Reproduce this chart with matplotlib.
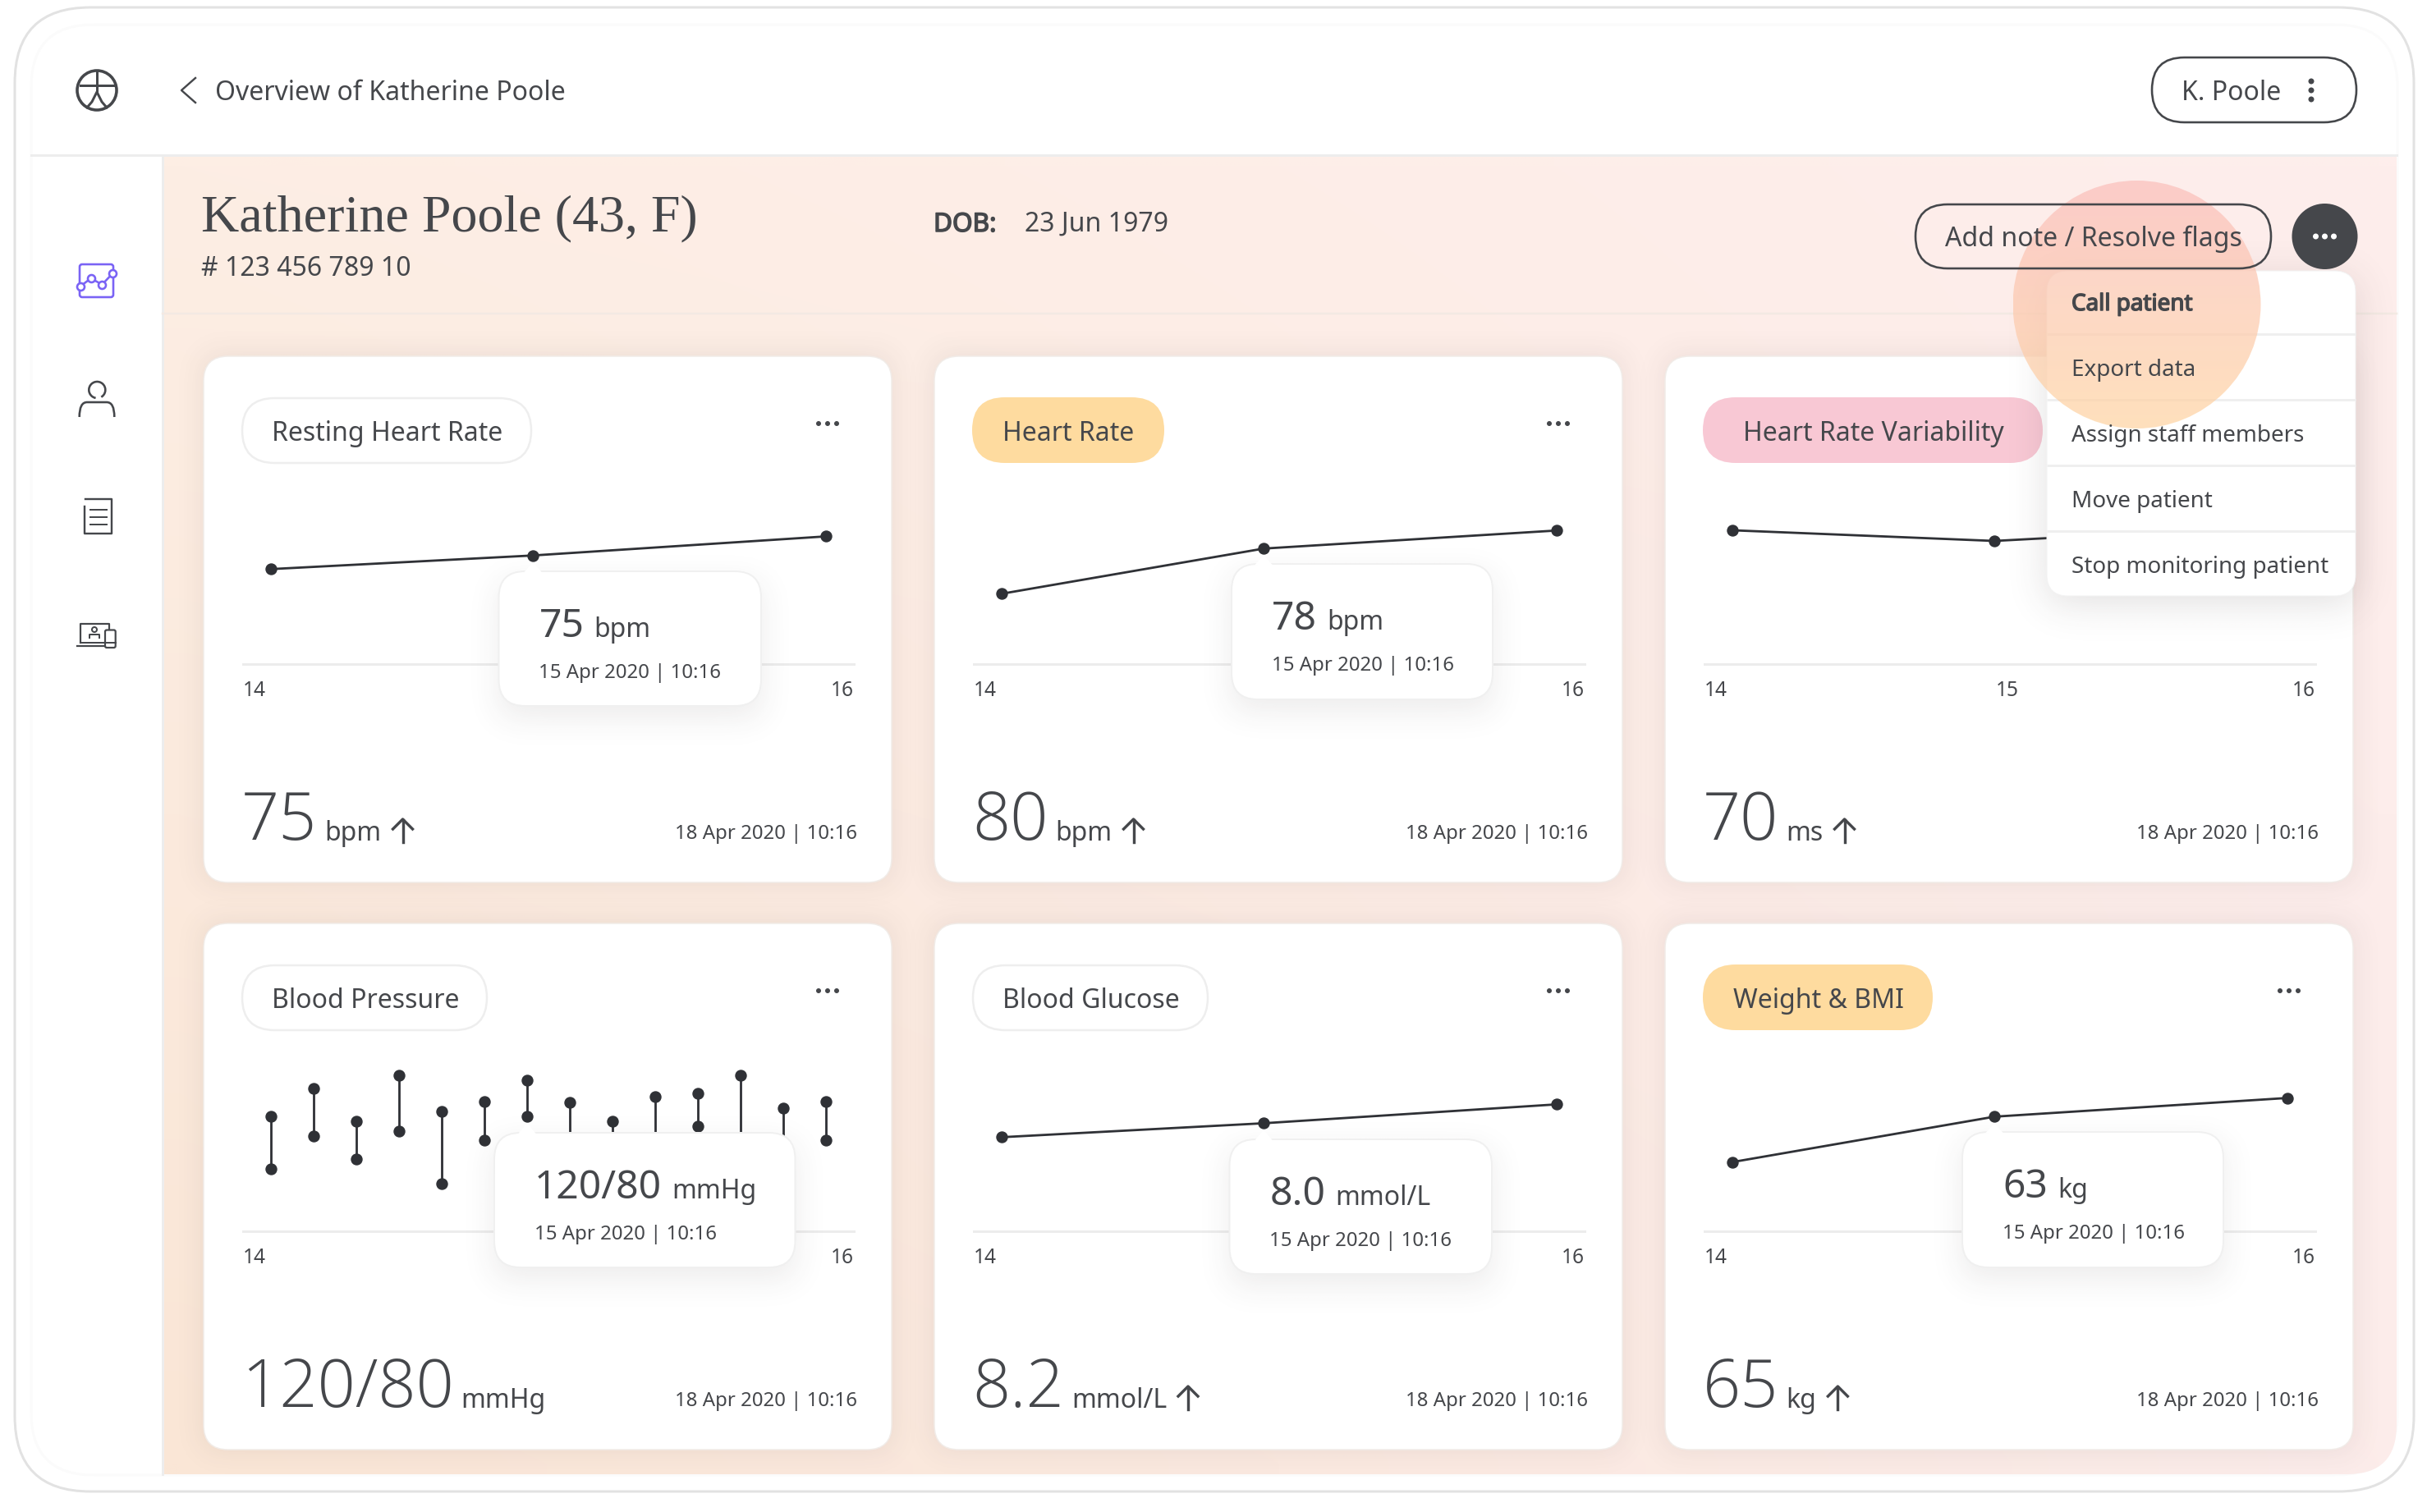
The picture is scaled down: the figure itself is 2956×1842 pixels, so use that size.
import math
import numpy as np
import matplotlib
matplotlib.use("Agg")
import matplotlib.pyplot as plt
import matplotlib.patheffects as pe
from matplotlib import font_manager as fm
from matplotlib.patches import FancyBboxPatch, Circle, Polygon, PathPatch, Arc
from matplotlib.path import Path

# ---------- data ----------
DAYS = [14, 14.944, 16]
DAY_TICKS = ["14", "15", "16"]
RESTING_HR = [73.0, 75.0, 77.8]
HEART_RATE = [72.0, 78.0, 80.4]
HRV = [69.6, 67.0, 70.8]
GLUCOSE = [7.83, 8.0, 8.23]
WEIGHT = [58.15, 63.0, 65.0]
BP_DAYS = [14, 14.154, 14.308, 14.462, 14.615, 14.769, 14.923, 15.077, 15.231, 15.385, 15.538, 15.692, 15.846, 16]
BP_SYS = [80, 111, 74, 125.5, 85.5, 96, 120, 95, 74, 102, 105, 125.5, 89, 96]
BP_DIA = [21.4, 58, 32.5, 63, 5, 53, 80, 50, 50, 50, 69, 45, 48, 53]

TITLES = ["Resting Heart Rate", "Heart Rate", "Heart Rate Variability", "Blood Pressure", "Blood Glucose", "Weight & BMI"]
LATEST = ["75", "80", "70", "120/80", "8.2", "65"]
UNITS = ["bpm", "bpm", "ms", "mmHg", "mmol/L", "kg"]
RISING = [True, True, True, False, True, True]
TIP_VALUE = ["75", "78", None, "120/80", "8.0", "63"]
LATEST_DATE = "18 Apr 2020 | 10:16"
TIP_DATE = "15 Apr 2020 | 10:16"
MENU = ["Call patient", "Export data", "Assign staff members", "Move patient", "Stop monitoring patient"]

# ---------- layout ----------
W, H = 2956, 1842
CARD_X = [248, 1138, 2028]
CARD_Y = [434, 1125]
CARD_W, CARD_H = 838, 641
DARK = "#45474b"
LINE = "#2f3136"
RULE = "#ececec"
ORANGE = "#fedb9f"
PINK = "#f8c8d4"
PILLS = [(47, 352, None), (46, 234, ORANGE), (46, 414, PINK), (47, 298, None), (47, 286, None), (46, 280, ORANGE)]
PILL_TEXT_X = [83, 83, 95, 83, 83, 83]
TIPS = [(607.5, 927, 696, 860), (1500, 1818, 687, 852), None, (602, 968.5, 1380, 1544),
        (1497.5, 1817, 1388, 1552), (2390, 2708, 1379, 1544)]
# value anchor: (value, pixel y of value, pixels per unit)
SCALES = [(75, 676.7, 8.3), (78, 668.3, 9.17), (67, 659, 5.0), (120, 1316, 1.095), (8.0, 1368.4, 100.0), (63, 1360.4, 11.4)]


def px(v):
    return v * 0.72


def light_family():
    for name in ["Noto Sans", "Open Sans", "Roboto", "Inter", "Lato"]:
        for f in fm.fontManager.ttflist:
            if f.name == name:
                w = f.weight
                if (isinstance(w, int) and w <= 300) or w in ("light", "extra light", "ultralight"):
                    return name
    return "Noto Sans"


FONT = "Noto Sans"
LIGHT = light_family()
plt.rcParams["font.family"] = [FONT, "DejaVu Sans"]
FAKE_BOLD = [pe.withStroke(linewidth=px(1.5), foreground=DARK)]

fig = plt.figure(figsize=(W / 100, H / 100), dpi=100, facecolor="white")


def pixel_axes(z):
    a = fig.add_axes([0, 0, 1, 1], zorder=z)
    a.set_xlim(0, W)
    a.set_ylim(H, 0)
    a.axis("off")
    a.patch.set_alpha(0)
    return a


bg = pixel_axes(0)
ov = pixel_axes(5)


def round_box(ax, x0, y0, x1, y1, r, fc="white", ec="none", lw=0, z=2, **kw):
    p = FancyBboxPatch((x0, y0), x1 - x0, y1 - y0, boxstyle=f"round,pad=0,rounding_size={r}",
                       fc=fc, ec=ec, lw=px(lw), zorder=z, **kw)
    ax.add_patch(p)
    return p


def erf_profile(v, a, b, s):
    e = np.vectorize(math.erf)
    return 0.5 * (e((v - a) / (s * 1.414)) - e((v - b) / (s * 1.414)))


def soft_shadow(ax, x0, y0, x1, y1, s, alpha, z, clip=None):
    pad = 3 * s
    xs = np.arange(x0 - pad, x1 + pad, 3.0)
    ys = np.arange(y0 - pad, y1 + pad, 3.0)
    m = np.outer(erf_profile(ys, y0, y1, s), erf_profile(xs, x0, x1, s)) * alpha
    img = np.zeros(m.shape + (4,))
    img[..., 0] = 0.25
    img[..., 1] = 0.2
    img[..., 2] = 0.2
    img[..., 3] = m
    im = ax.imshow(img, extent=(xs[0], xs[-1], ys[-1], ys[0]), aspect="auto", zorder=z, interpolation="bilinear")
    if clip is not None:
        im.set_clip_path(clip)
    return im


# device frame
round_box(bg, 18, 9, 2940, 1817, 92, fc="white", ec="#e2e2e2", lw=3, z=1)
round_box(bg, 38, 30, 2920, 1797, 76, fc="white", ec="#fbfbfb", lw=3, z=1.1)

# peach panel
PX0, PY0, PX1, PY1 = 198, 190, 2919, 1796
verts = [(PX0, PY0), (PX1, PY0), (PX1, PY1 - 60), (PX1, PY1), (PX1 - 60, PY1), (PX0, PY1), (PX0, PY0)]
codes = [Path.MOVETO, Path.LINETO, Path.LINETO, Path.CURVE3, Path.CURVE3, Path.LINETO, Path.CLOSEPOLY]
panel = PathPatch(Path(verts, codes), fc="none", ec="none", transform=bg.transData)
bg.add_patch(panel)
u = np.linspace(0, 1, 64)
v = np.linspace(0, 1, 64)
UU, VV = np.meshgrid(u, v)
tl, tr, bl, br = [np.array(matplotlib.colors.to_rgb(c)) for c in ("#fdeee4", "#feeeec", "#fae6d6", "#fcecea")]
grad = ((1 - UU)[..., None] * ((1 - VV)[..., None] * tl + VV[..., None] * bl)
        + UU[..., None] * ((1 - VV)[..., None] * tr + VV[..., None] * br))
im = bg.imshow(grad, extent=(PX0, PX1, PY1, PY0), aspect="auto", zorder=2, interpolation="bilinear")
im.set_clip_path(panel)

bg.plot([38, 2919], [189, 189], color="#ededed", lw=px(3), zorder=3)
bg.plot([198, 198], [190, 1796], color="#ededed", lw=px(3), zorder=3)
bg.plot([198, 2919], [382, 382], color="#f3e9e3", lw=px(2.5), zorder=3)

for cy in CARD_Y:
    for cx in CARD_X:
        soft_shadow(bg, cx, cy, cx + CARD_W, cy + CARD_H, 18, 0.10, 4, clip=panel)
for cy in CARD_Y:
    for cx in CARD_X:
        round_box(bg, cx, cy, cx + CARD_W, cy + CARD_H, 30, fc="white", ec="#f1ece8", lw=1.5, z=5)

# header
tc = dict(color=DARK, va="baseline", zorder=20)
bg.text(262, 122, "Overview of Katherine Poole", fontsize=px(32), **tc)
bg.plot([238, 221, 238], [95, 110, 125], color=DARK, lw=px(2.4), zorder=6)
bg.text(245, 281, "Katherine Poole (43, F)", fontsize=px(64), family="Liberation Serif", **tc)
bg.text(245, 336, "# 123 456 789 10", fontsize=px(32), **tc)
t_dob = bg.text(1137, 282, "DOB:", fontsize=px(31.5), **tc)
t_dob.set_path_effects(FAKE_BOLD)
bg.text(1248, 282, "23 Jun 1979", fontsize=px(32), **tc)

# logo
bg.add_patch(Circle((118, 110), 24, fc="none", ec=DARK, lw=px(3.6), zorder=6))
bg.plot([98, 138], [104, 104], color=DARK, lw=px(3), zorder=6)
bg.plot([118, 118], [87, 112], color=DARK, lw=px(3), zorder=6)
bg.plot([106, 112, 118, 124, 130], [131, 124, 112, 124, 131], color=DARK, lw=px(3), zorder=6)

# sidebar icons
VIOLET = "#7a63f5"
round_box(bg, 97, 322, 138, 362, 3, fc="none", ec=VIOLET, lw=2.6, z=6)
bg.plot([97.7, 110.7, 124.3, 137.3], [349, 339, 346.7, 333], color=VIOLET, lw=px(2.6), zorder=6,
        marker="o", ms=px(9), mfc="white", mec=VIOLET, mew=px(2.6))
bg.add_patch(Arc((118.3, 475), 20, 20, angle=0, theta1=-260, theta2=60, ec=DARK, lw=px(2.6), zorder=6))
bg.add_patch(PathPatch(Path([(96.7, 508), (96.7, 490), (106, 490), (130, 490), (139.3, 490), (139.3, 508)],
                            [Path.MOVETO, Path.CURVE3, Path.CURVE3, Path.LINETO, Path.CURVE3, Path.CURVE3]),
                       fc="none", ec=DARK, lw=px(2.6), zorder=6))
bg.plot([103, 103, 136, 136, 103.5], [617, 650, 650, 608, 608], color=DARK, lw=px(2.4), zorder=6)
for yy in (621, 630, 639):
    bg.plot([110, 130], [yy, yy], color=DARK, lw=px(2), zorder=6)
bg.plot([98, 98, 132.7, 132.7], [783, 760, 760, 766], color=DARK, lw=px(2.2), zorder=6)
bg.plot([98, 128], [782.5, 782.5], color=DARK, lw=px(2), zorder=6)
bg.plot([94, 128], [787, 787], color=DARK, lw=px(2.2), zorder=6)
round_box(bg, 128, 767.5, 140.7, 789, 2, fc="white", ec=DARK, lw=2.2, z=6)
bg.plot([128, 140.7], [783, 783], color=DARK, lw=px(2), zorder=7)
bg.add_patch(Circle((115, 767), 3, fc="none", ec=DARK, lw=px(2), zorder=6))
bg.plot([109, 109, 121, 121], [777, 773, 773, 777], color=DARK, lw=px(2), zorder=6)

# ---------- cards ----------
SERIES = [RESTING_HR, HEART_RATE, HRV, None, GLUCOSE, WEIGHT]
renderer = fig.canvas.get_renderer()


def text_w(t):
    return t.get_window_extent(renderer).width


AX_L, AX_R, BASE = 48, 792, 375
X_14, X_16 = 82, 758
AX_TOP = 255
per_day = (X_16 - X_14) / 2
x_lo = 14 - (X_14 - AX_L) / per_day
x_hi = 16 + (AX_R - X_16) / per_day

for i in range(6):
    cx = CARD_X[i % 3]
    cy = CARD_Y[i // 3]
    base_y = cy + BASE
    top_y = cy + AX_TOP
    ax = fig.add_axes([(cx + AX_L) / W, 1 - base_y / H, (AX_R - AX_L) / W, (base_y - top_y) / H], zorder=1)
    ax.patch.set_alpha(0)
    val0, y0, ppu = SCALES[i]
    ax.set_xlim(x_lo, x_hi)
    ax.set_ylim(val0 - (base_y - y0) / ppu, val0 + (y0 - top_y) / ppu)
    for s in ("top", "left", "right"):
        ax.spines[s].set_visible(False)
    ax.spines["bottom"].set_color(RULE)
    ax.spines["bottom"].set_linewidth(px(3))
    ax.set_yticks([])
    ax.set_xticks([x_lo, 14.99, x_hi], DAY_TICKS)
    ax.tick_params(axis="x", length=0, pad=14.5, labelsize=px(24.5), labelcolor=DARK)
    labs = ax.get_xticklabels()
    labs[0].set_ha("left")
    labs[2].set_ha("right")
    mx, my = None, None
    if SERIES[i] is not None:
        ax.plot(DAYS, SERIES[i], color=LINE, lw=px(2.8), marker="o", ms=px(13), clip_on=False)
        mx, my = DAYS[1], SERIES[i][1]
    else:
        for d, hi, lo in zip(BP_DAYS, BP_SYS, BP_DIA):
            ax.plot([d, d], [lo, hi], color=LINE, lw=px(2.8), marker="o", ms=px(13), clip_on=False)
        mx, my = BP_DAYS[6], BP_DIA[6]

    # pill
    pl, pw, pc = PILLS[i]
    if pc is None:
        round_box(ov, cx + pl, cy + 51, cx + pl + pw, cy + 130, 39.5, fc="white", ec="#eeeeee", lw=2.5, z=2)
    else:
        round_box(ov, cx + pl, cy + 50, cx + pl + pw, cy + 130, 40, fc=pc, z=2)
    ov.text(cx + PILL_TEXT_X[i], cy + 102.5, TITLES[i], fontsize=px(32), color=DARK, va="baseline", zorder=4)
    # dots
    for dx in (749, 760, 771):
        ov.add_patch(Circle((cx + dx, cy + 82), 3, fc=DARK, ec="none", zorder=4))

    # headline
    head_y = cy + 588.5
    t = ov.text(cx + 46, head_y, LATEST[i], fontsize=px(81), family=LIGHT, fontweight="light",
                color=DARK, va="baseline", zorder=4)
    x = cx + 46 + text_w(t) + 9
    t2 = ov.text(x, cy + 590, UNITS[i], fontsize=px(32), color=DARK, va="baseline", zorder=4)
    x += text_w(t2)
    if RISING[i]:
        ax_c = x + 26
        ov.plot([ax_c, ax_c], [cy + 565, cy + 592], color=DARK, lw=px(3.4), zorder=4)
        ov.plot([ax_c - 12, ax_c, ax_c + 12], [cy + 576, cy + 564, cy + 576], color=DARK, lw=px(3.4), zorder=4)
    ov.text(cx + 796, cy + 588, LATEST_DATE, fontsize=px(24), color=DARK, va="baseline", ha="right", zorder=4)

    # tooltip
    if TIPS[i] is not None:
        tl_, tr_, tt_, tb_ = TIPS[i]
        soft_shadow(ov, tl_, tt_ + 14, tr_, tb_ + 14, 20, 0.10, 2.5)
        round_box(ov, tl_, tt_, tr_, tb_, 32, fc="white", ec="#f0f0f0", lw=2, z=3)
        pxp = ax.transData.transform((mx, my))
        ptx = pxp[0]
        pty = H - pxp[1]
        ov.add_patch(Polygon([(ptx - 11, tt_ + 1.5), (ptx, pty + 8), (ptx + 11, tt_ + 1.5)], closed=True,
                             fc="white", ec="none", zorder=3.2))
        tv = ov.text(tl_ + 49, tt_ + 80, TIP_VALUE[i], fontsize=px(48), color=DARK, va="baseline", zorder=4)
        ov.text(tl_ + 49 + text_w(tv) + 12, tt_ + 80, UNITS[i], fontsize=px(32), color=DARK, va="baseline", zorder=4)
        ov.text(tl_ + 49, tt_ + 130, TIP_DATE, fontsize=px(24), color=DARK, va="baseline", zorder=4)

# ---------- top-right controls ----------
round_box(ov, 2621, 70, 2870, 149, 39.5, fc="none", ec=DARK, lw=2.6, z=14)
ov.text(2657, 122.5, "K. Poole", fontsize=px(32), color=DARK, va="baseline", zorder=14)
for yy in (99, 110, 121):
    ov.add_patch(Circle((2815, yy), 3.5, fc=DARK, ec="none", zorder=14))
round_box(ov, 2333, 249, 2766, 327, 39, fc="none", ec=DARK, lw=2.6, z=14)
ov.text(2369, 300.5, "Add note / Resolve flags", fontsize=px(32), color=DARK, va="baseline", zorder=14)
ov.add_patch(Circle((2831.5, 288), 40, fc=DARK, ec="none", zorder=14))
for dx in (-11, 0, 11):
    ov.add_patch(Circle((2831.5 + dx, 288), 3.5, fc="white", ec="none", zorder=15))

# dropdown
soft_shadow(ov, 2493, 340, 2869, 735, 24, 0.16, 10)
round_box(ov, 2493, 330, 2869, 726, 26, fc="white", ec="#f3f3f3", lw=1, z=11)
for yy in (407, 487, 567, 647):
    ov.plot([2493, 2869], [yy, yy], color="#efefef", lw=px(3), zorder=12, solid_capstyle="butt")
for k, (label, yy) in enumerate(zip(MENU, (378, 458, 538, 618, 698))):
    tm = ov.text(2523, yy, label, fontsize=px(27.8), color=DARK, va="baseline", zorder=16)
    if k == 0:
        tm.set_path_effects(FAKE_BOLD)

# highlight circle
CX_H, CY_H, R_H = 2602.5, 371, 151
rows = np.linspace(0, 1, 128)[:, None]
top_c = np.array([251, 191, 188]) / 255
bot_c = np.array([255, 212, 162]) / 255
img = np.zeros((128, 2, 4))
for c in range(3):
    img[..., c] = top_c[c] * (1 - rows) + bot_c[c] * rows
img[..., 3] = 0.72
him = ov.imshow(img, extent=(CX_H - R_H, CX_H + R_H, CY_H + R_H, CY_H - R_H), aspect="auto", zorder=13,
                interpolation="bilinear")
clipc = Circle((CX_H, CY_H), R_H, transform=ov.transData, fc="none", ec="none")
ov.add_patch(clipc)
him.set_clip_path(clipc)

for a in (bg, ov):
    a.set_xlim(0, W)
    a.set_ylim(H, 0)

fig.savefig("out.png", dpi=100, facecolor="white")
